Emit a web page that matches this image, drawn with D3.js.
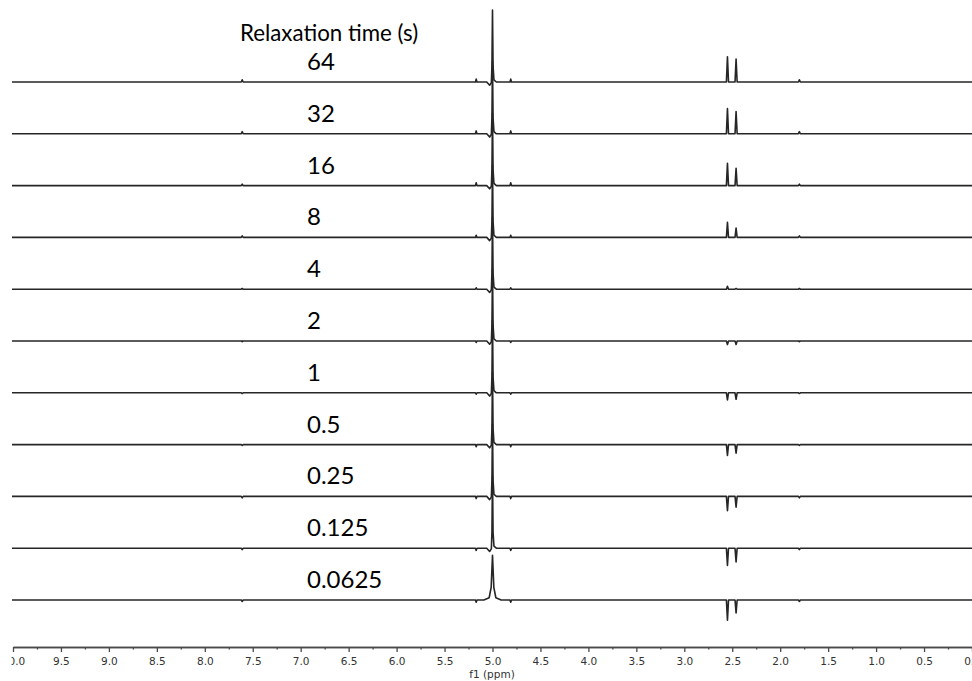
<!DOCTYPE html>
<html>
<head>
<meta charset="utf-8">
<script src="https://cdn.jsdelivr.net/npm/d3@7"></script>
<style>
  html, body { margin: 0; padding: 0; background: #fff; }
  svg { display: block; }
</style>
</head>
<body>
<svg id="chart" width="972" height="681"></svg>
<script>
// Stacked 1H spectra from an inversion-recovery series, one trace per relaxation delay.
const relaxationTimes = ["64", "32", "16", "8", "4", "2", "1", "0.5", "0.25", "0.125", "0.0625"];

// Water (HOD) line at 5.00 ppm: height per trace (a.u.) and line shape (narrow / broad)
const waterPpm = 5.00;
const waterHeights = [100, 100, 100, 100, 100, 100, 100, 100, 100, 100, 62];
const waterShapes = ["narrow", "narrow", "narrow", "narrow", "narrow", "narrow", "narrow", "narrow", "narrow", "narrow", "broad"];
// Line-shape templates: [ppm offset, fraction of height]
const narrowProfile = [[0.060, 0], [0.030, -0.045], [0.012, -0.01], [0.006, 0.22], [0, 1], [-0.006, 0.22], [-0.015, 0.03], [-0.040, 0]];
const broadProfile = [[0.090, 0], [0.035, 0.05], [0.014, 0.28], [0, 1], [-0.014, 0.28], [-0.035, 0.05], [-0.090, 0]];

// Doublet near 2.5 ppm, recovering from negative to positive
const doubletPpm = [2.55, 2.46];
const doubletLeft = [35, 35, 31, 21, 4, -5, -10, -15, -20, -24, -28];
const doubletRight = [32, 31, 24, 13, 1, -5, -9, -12, -15, -19, -18];

// Small sidebands / impurities
const sidebandPpm = [7.61, 5.17, 4.81, 1.80];
const sidebandOuter = [3, 3, 2, 2, 1, -1, -1, -1, -2, -2, -2];   // 7.61 and 1.80 ppm
const sidebandInner = [4, 4, 4, 3, 2, -2, -2, -3, -3, -3, -3];   // 5.17 and 4.81 ppm

// Axis ticks (ppm)
const majorTicks = [10.0, 9.5, 9.0, 8.5, 8.0, 7.5, 7.0, 6.5, 6.0, 5.5, 5.0, 4.5, 4.0, 3.5, 3.0, 2.5, 2.0, 1.5, 1.0, 0.5, 0.0];
const minorTicks = [9.75, 9.25, 8.75, 8.25, 7.75, 7.25, 6.75, 6.25, 5.75, 5.25, 4.75, 4.25, 3.75, 3.25, 2.75, 2.25, 1.75, 1.25, 0.75, 0.25];

const svg = d3.select("#chart");
const plotLeft = 12, plotRight = 972;

const x = d3.scaleLinear().domain([10.0, 0.0]).range([13, 972]);
const traceY = d3.scalePoint().domain(relaxationTimes).range([82, 600]);
const yI = d3.scaleLinear().domain([0, 100]).range([0, -72]);

svg.append("defs").append("clipPath").attr("id", "plotClip")
  .append("rect").attr("x", plotLeft - 0.5).attr("y", 0).attr("width", plotRight - plotLeft + 1).attr("height", 681);

function tracePoints(i) {
  const pts = [];
  pts.push({ ppm: x.invert(plotLeft), v: 0 });
  pts.push({ ppm: x.invert(plotRight + 2), v: 0 });
  const prof = waterShapes[i] === "broad" ? broadProfile : narrowProfile;
  prof.forEach(([dp, f]) => pts.push({ ppm: waterPpm + dp, v: f * waterHeights[i] }));
  const spike = (p, h, w) => {
    pts.push({ ppm: p + w, v: 0 }, { ppm: p, v: h }, { ppm: p - w, v: 0 });
  };
  spike(doubletPpm[0], doubletLeft[i], 0.011);
  spike(doubletPpm[1], doubletRight[i], 0.011);
  spike(sidebandPpm[0], sidebandOuter[i], 0.01);
  spike(sidebandPpm[1], sidebandInner[i], 0.008);
  spike(sidebandPpm[2], sidebandInner[i], 0.008);
  spike(sidebandPpm[3], sidebandOuter[i], 0.01);
  pts.sort((a, b) => b.ppm - a.ppm);
  return pts;
}

const traces = svg.append("g").attr("clip-path", "url(#plotClip)");
relaxationTimes.forEach((t, i) => {
  const y0 = traceY(t);
  const line = d3.line().x(d => x(d.ppm)).y(d => y0 + yI(d.v));
  traces.append("path")
    .attr("d", line(tracePoints(i)))
    .attr("fill", "none")
    .attr("stroke", "#262626")
    .attr("stroke-width", 1.6)
    .attr("stroke-linejoin", "round");
});

// Relaxation delay labels
const labelFont = "Lato, 'Open Sans', sans-serif";
svg.append("text")
  .attr("x", 240).attr("y", 41)
  .attr("font-family", labelFont).attr("font-size", 22.3)
  .attr("fill", "#000")
  .text("Relaxation time (s)");
svg.selectAll("text.delay").data(relaxationTimes).join("text")
  .attr("class", "delay")
  .attr("x", 307)
  .attr("y", d => traceY(d) - 12)
  .attr("font-family", labelFont).attr("font-size", 24)
  .attr("fill", "#000")
  .text(d => d);

// ppm axis
const axisY = 647;
const axisG = svg.append("g").attr("clip-path", "url(#plotClip)");
const minorAxis = d3.axisBottom(x).tickValues(minorTicks).tickSize(2.5).tickSizeOuter(0).tickFormat("");
const majorAxis = d3.axisBottom(x).tickValues(majorTicks).tickSize(5).tickSizeOuter(0).tickFormat(d3.format(".1f"));
axisG.append("g").attr("transform", `translate(0,${axisY})`).call(minorAxis);
const maj = axisG.append("g").attr("transform", `translate(0,${axisY})`).call(majorAxis);
axisG.selectAll(".domain").attr("stroke", "#4a4a4a").attr("stroke-width", 1.3);
axisG.selectAll(".tick line").attr("stroke", "#4a4a4a").attr("stroke-width", 1.3);
maj.selectAll(".tick text")
  .attr("font-family", "'DejaVu Sans', Verdana, sans-serif")
  .attr("font-size", 10.5)
  .attr("fill", "#333")
  .attr("y", 10.5);

svg.append("text")
  .attr("x", 492).attr("y", 678)
  .attr("text-anchor", "middle")
  .attr("font-family", "'DejaVu Sans', Verdana, sans-serif")
  .attr("font-size", 10.5)
  .attr("fill", "#333")
  .text("f1 (ppm)");
</script>
</body>
</html>
